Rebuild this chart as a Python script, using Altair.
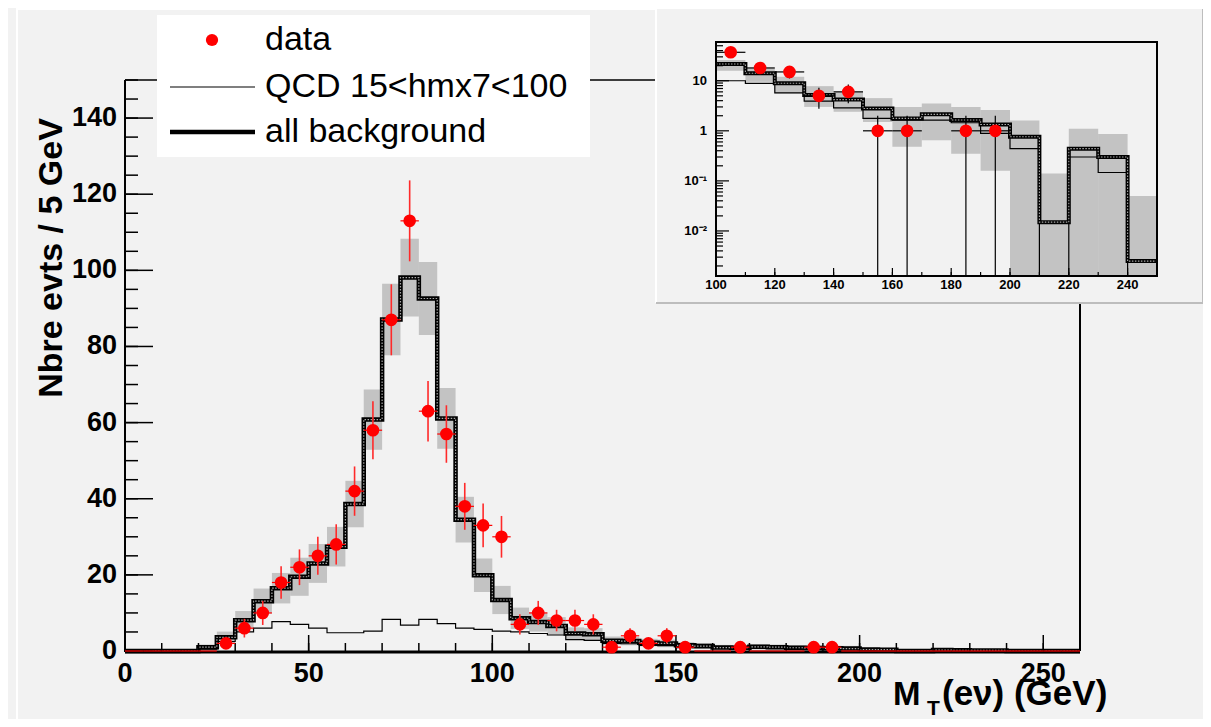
import altair as alt
import pandas as pd
import numpy as np

FONT = "Liberation Sans"
W, H = 955, 571
BG = "#f2f2f2"

# ---------------- main histogram (5 GeV bins, 0..260) ----------------
bin_low = list(range(0, 260, 5))
data_counts = [0, 0, 0, 0, 0, 2, 6, 10, 18, 22, 25, 28, 42, 58, 87, 113, 63, 57, 38, 33,
               30, 7, 10, 8, 8, 7, 1, 4, 2, 4, 1, 0, 0, 1, 0, 0, 0, 1, 1, 0,
               0, 0, 0, 0, 0, 0, 0, 0, 0, 0, 0, 0]
allbkg = [0, 0, 0, 0, 1.0, 3.6, 8.1, 13.1, 16.5, 19.5, 23.0, 27.4, 38.6, 60.8, 87.1, 98.1,
          92.6, 61.1, 34.5, 19.9, 13.4, 8.6, 7.6, 6.6, 4.6, 4.4, 2.7, 2.6, 2.2, 2.0, 1.5, 1.3,
          0.9, 0.85, 1.1, 1.0, 0.85, 0.8, 0.7, 0.65, 0.4, 0.35, 0.008, 0.007, 0.24, 0.2,
          0.16, 0.14, 0.0013, 0.0012, 0, 0]
qcd = [0, 0, 0, 0, 0.5, 2.5, 5.0, 6.0, 7.7, 7.0, 6.0, 4.8, 4.8, 5.2, 8.3, 6.8, 8.3, 7.2,
       6.0, 5.7, 5.2, 5.0, 4.6, 4.2, 3.0, 2.8, 2.0, 1.9, 1.5, 1.4, 0.9, 0.85, 0.85, 0.8,
       0.85, 0.8, 0.75, 0.7, 0.45, 0.45, 0.22, 0.22, 0, 0, 0.15, 0.15, 0.07, 0.07, 0, 0, 0, 0]
band_err = [0, 0, 0, 0, 0.7, 1.5, 2.4, 3.3, 4.0, 5.0, 5.1, 5.2, 6.1, 7.9, 9.4, 10.2, 9.6,
            8.0, 6.0, 4.4, 3.7, 2.8, 2.5, 2.3, 1.6, 1.6, 1.1, 1.1, 1.0, 1.0, 0.8, 0.8,
            0.7, 0.7, 0.7, 0.7, 0.7, 0.7, 0.7, 0.7, 0.5, 0.5, 0.1, 0.1, 0.4, 0.4, 0.4, 0.4,
            0.05, 0.05, 0, 0]

# ---------------- inset histogram (10 GeV bins, 100..250, log y) ----------------
in_low = list(range(100, 250, 10))
in_data = [37, 18, 15, 5, 6, 1, 1, 0, 1, 1, 0, 0, 0, 0, 0]
in_allbkg = [21.6, 14.1, 8.9, 5.2, 4.2, 2.8, 1.77, 2.13, 1.64, 1.34, 0.76, 0.015, 0.44, 0.30, 0.0025]
in_qcd = [10, 8.9, 5.75, 3.93, 2.88, 1.77, 1.64, 1.64, 1.45, 0.89, 0.44, 0, 0.30, 0.147, 0]
in_band_lo = [15.8, 9.5, 5.6, 3.0, 2.4, 1.5, 0.48, 0.65, 0.35, 0.16, 0, 0, 0, 0, 0]
in_band_hi = [26, 17.7, 12.0, 7.8, 6.0, 4.5, 3.0, 3.5, 3.0, 2.6, 1.6, 0.14, 1.1, 0.86, 0.05]

# ---------------- ticks / labels ----------------
x_major = [0, 50, 100, 150, 200, 250]
x_minor = list(range(0, 261, 10))
y_major = [0, 20, 40, 60, 80, 100, 120, 140]
y_minor = list(range(0, 151, 5))
in_x_major = [100, 120, 140, 160, 180, 200, 220, 240]
in_x_minor = list(range(100, 251, 10))
in_y_major = [0.01, 0.1, 1, 10]
in_y_labels = ["10\u207b\u00b2", "10\u207b\u00b9", "1", "10"]
IY_MIN, IY_MAX = 0.00126, 59.4
in_y_minor = [k * 10.0 ** e for e in (-3, -2, -1, 0, 1) for k in range(2, 10)
              if IY_MIN < k * 10.0 ** e < IY_MAX]
legend_labels = ["data", "QCD 15<hmx7<100", "all background"]

# ---------------- scales ----------------
xs = alt.Scale(domain=[0, 260], nice=False, zero=False)
ys = alt.Scale(domain=[0, 150], nice=False, zero=False)
ixs = alt.Scale(domain=[100, 250], range=[591, 1032], nice=False, zero=False)
iys = alt.Scale(type="log", domain=[IY_MIN, IY_MAX], range=[196, -38], nice=False, clamp=True)

one = pd.DataFrame({"k": [0]})

def hrule(y, x1, x2, color="black", width=1.0):
    return alt.Chart(one).mark_rule(color=color, strokeWidth=width).encode(
        x=alt.value(x1), x2=alt.value(x2), y=alt.value(y))

def vrule(x, y1, y2, color="black", width=1.0):
    return alt.Chart(one).mark_rule(color=color, strokeWidth=width).encode(
        x=alt.value(x), y=alt.value(y1), y2=alt.value(y2))

def label(t, x, y, size, weight="bold", align="left", baseline="alphabetic", angle=0):
    return alt.Chart(one).mark_text(text=t, font=FONT, fontSize=size, fontWeight=weight,
                                    align=align, baseline=baseline, angle=angle,
                                    color="black").encode(x=alt.value(x), y=alt.value(y))

# ---------------- main data frames ----------------
hist = pd.DataFrame({
    "lo": bin_low,
    "hi": [b + 5 for b in bin_low],
    "c": [b + 2.5 for b in bin_low],
    "data": data_counts,
    "err": band_err,
    "blo": [max(v - e, 0) for v, e in zip(allbkg, band_err)],
    "bhi": [v + e for v, e in zip(allbkg, band_err)],
})
hist["dlo"] = hist["data"] - np.sqrt(hist["data"])
hist["dhi"] = hist["data"] + np.sqrt(hist["data"])
step = pd.DataFrame({"x": bin_low + [260], "bkg": allbkg + [allbkg[-1]], "qcd": qcd + [qcd[-1]]})

X = lambda f: alt.X(f, type="quantitative", scale=xs, axis=None)
Y = lambda f: alt.Y(f, type="quantitative", scale=ys, axis=None)

band = alt.Chart(hist).transform_filter("datum.err > 0").mark_rect(
    fill="#9c9c9c", opacity=0.55).encode(x=X("lo"), x2="hi", y=Y("blo"), y2="bhi")
qcd_line = alt.Chart(step).mark_line(interpolate="step-after", color="black",
                                     strokeWidth=1.2).encode(x=X("x"), y=Y("qcd"))
bkg_line = alt.Chart(step).mark_line(interpolate="step-after", color="black",
                                     strokeWidth=4.5).encode(x=X("x"), y=Y("bkg"))
bkg_dots = alt.Chart(step).mark_line(interpolate="step-after", color="#a8a8a8",
                                     strokeWidth=1.2, strokeDash=[1.5, 1.5]).encode(x=X("x"), y=Y("bkg"))

frame = [
    hrule(0, 0, W, width=1.5),
    vrule(W, 0, H, width=2),
    vrule(0, 0, H + 1, width=2),
    hrule(H + 1, 0, W, width=3),
]

d_h = alt.Chart(hist).mark_rule(color="#ff0000", strokeWidth=1.2).encode(
    x=X("lo"), x2="hi", y=Y("data"))
d_v = alt.Chart(hist).transform_filter("datum.data > 0").mark_rule(
    color="#ff2a2a", strokeWidth=1.6).encode(x=X("c"), y=Y("dlo"), y2="dhi")
d_pt = alt.Chart(hist).transform_filter("datum.data > 0").mark_circle(
    color="#ff0000", size=160, opacity=1).encode(x=X("c"), y=Y("data"))

ymaj = alt.Chart(pd.DataFrame({"v": y_major})).mark_rule(color="black", strokeWidth=1.5).encode(
    x=alt.value(0), x2=alt.value(28), y=Y("v"))
ymin_ = alt.Chart(pd.DataFrame({"v": y_minor})).mark_rule(color="black", strokeWidth=1.5).encode(
    x=alt.value(0), x2=alt.value(13), y=Y("v"))
xmaj = alt.Chart(pd.DataFrame({"v": x_major})).mark_rule(color="black", strokeWidth=1.5).encode(
    x=X("v"), y=alt.value(H), y2=alt.value(H - 16))
xmin_ = alt.Chart(pd.DataFrame({"v": x_minor})).mark_rule(color="black", strokeWidth=1.5).encode(
    x=X("v"), y=alt.value(H), y2=alt.value(H - 8))

xlab = alt.Chart(pd.DataFrame({"v": x_major, "t": [str(v) for v in x_major]})).mark_text(
    font=FONT, fontSize=27, fontWeight="bold", align="center", baseline="top", color="black"
).encode(x=X("v"), y=alt.value(H + 10), text="t:N")
ylab = alt.Chart(pd.DataFrame({"v": y_major, "t": [str(v) for v in y_major]})).mark_text(
    font=FONT, fontSize=27, fontWeight="bold", align="right", baseline="middle", color="black"
).encode(x=alt.value(-8), y=Y("v"), text="t:N")

titles = [
    label("Nbre evts / 5 GeV", -63, 178, 34, align="center", angle=270),
    label("M", 768, 625, 33),
    label("T", 802, 635, 21),
    label("(e\u03bd) (GeV)", 817, 625, 35),
]

canvas = [
    vrule(-108, -72, 641, color="#ffffff", width=2),
    hrule(-71, -108, 1080, color="#ffffff", width=2),
    hrule(641, -108, 1080, color="#c4c4c4", width=2),
]

legend = [
    alt.Chart(one).mark_rect(fill="#ffffff").encode(
        x=alt.value(32), x2=alt.value(465), y=alt.value(-65), y2=alt.value(77)),
    alt.Chart(one).mark_circle(color="#ff0000", size=150, opacity=1).encode(
        x=alt.value(87), y=alt.value(-40)),
    hrule(7, 45, 130, width=1.2),
    hrule(52, 45, 130, width=4.5),
    label(legend_labels[0], 140, -40, 34, weight="normal", baseline="middle"),
    label(legend_labels[1], 140, 7, 34, weight="normal", baseline="middle"),
    label(legend_labels[2], 140, 52, 34, weight="normal", baseline="middle"),
]

main_group = alt.layer(*canvas, band, qcd_line, bkg_line, bkg_dots, *frame,
                       ymaj, ymin_, xmaj, xmin_, d_h, d_v, d_pt, xlab, ylab,
                       *titles, *legend)

# ---------------- inset ----------------
ih = pd.DataFrame({
    "lo": in_low,
    "hi": [b + 10 for b in in_low],
    "c": [b + 5 for b in in_low],
    "data": in_data,
    "blo": np.maximum(in_band_lo, IY_MIN),
    "bhi": np.maximum(in_band_hi, IY_MIN),
})
ih["dlo"] = np.maximum(ih["data"] - np.sqrt(ih["data"]), IY_MIN)
ih["dhi"] = ih["data"] + np.sqrt(ih["data"])
istep = pd.DataFrame({
    "x": in_low + [250],
    "bkg": np.maximum(in_allbkg + [in_allbkg[-1]], IY_MIN),
    "qcd": np.maximum(in_qcd + [in_qcd[-1]], IY_MIN),
})

IX = lambda f: alt.X(f, type="quantitative", scale=ixs, axis=None)
IY = lambda f: alt.Y(f, type="quantitative", scale=iys, axis=None)

pad = [
    alt.Chart(one).mark_rect(fill=BG).encode(
        x=alt.value(531), x2=alt.value(1078), y=alt.value(-71), y2=alt.value(223)),
    vrule(531, -71, 223, color="#ffffff", width=2),
    hrule(223, 531, 1078, color="#bdbdbd", width=2),
    vrule(1078, -71, 223, color="#bdbdbd", width=2),
]
i_band = alt.Chart(ih).mark_rect(fill="#9c9c9c", opacity=0.55).encode(
    x=IX("lo"), x2="hi", y=IY("blo"), y2="bhi")
i_qcd = alt.Chart(istep).mark_line(interpolate="step-after", color="black",
                                   strokeWidth=1.2).encode(x=IX("x"), y=IY("qcd"))
i_bkg = alt.Chart(istep).mark_line(interpolate="step-after", color="black",
                                   strokeWidth=4).encode(x=IX("x"), y=IY("bkg"))
i_dots = alt.Chart(istep).mark_line(interpolate="step-after", color="#a8a8a8", strokeWidth=1.1,
                                    strokeDash=[1.5, 1.5]).encode(x=IX("x"), y=IY("bkg"))
i_dh = alt.Chart(ih).transform_filter("datum.data > 0").mark_rule(
    color="black", strokeWidth=1.2).encode(x=IX("lo"), x2="hi", y=IY("data"))
i_dv = alt.Chart(ih).transform_filter("datum.data > 0").mark_rule(
    color="black", strokeWidth=1.2).encode(x=IX("c"), y=IY("dlo"), y2="dhi")
i_pt = alt.Chart(ih).transform_filter("datum.data > 0").mark_circle(
    color="#ff0000", size=160, opacity=1).encode(x=IX("c"), y=IY("data"))
i_frame = alt.Chart(one).mark_rect(fillOpacity=0, stroke="black", strokeWidth=2).encode(
    x=alt.value(591), x2=alt.value(1032), y=alt.value(-38), y2=alt.value(196))
i_ymaj = alt.Chart(pd.DataFrame({"v": in_y_major})).mark_rule(color="black", strokeWidth=1.2).encode(
    x=alt.value(591), x2=alt.value(604), y=IY("v"))
i_ymin = alt.Chart(pd.DataFrame({"v": in_y_minor})).mark_rule(color="black", strokeWidth=1.2).encode(
    x=alt.value(591), x2=alt.value(598), y=IY("v"))
i_xmaj = alt.Chart(pd.DataFrame({"v": in_x_major})).mark_rule(color="black", strokeWidth=1.2).encode(
    x=IX("v"), y=alt.value(196), y2=alt.value(188))
i_xmin = alt.Chart(pd.DataFrame({"v": in_x_minor})).mark_rule(color="black", strokeWidth=1.2).encode(
    x=IX("v"), y=alt.value(196), y2=alt.value(192))
i_xlab = alt.Chart(pd.DataFrame({"v": in_x_major, "t": [str(v) for v in in_x_major]})).mark_text(
    font=FONT, fontSize=13, fontWeight="bold", align="center", baseline="top", color="black"
).encode(x=IX("v"), y=alt.value(199), text="t:N")
i_ylab = alt.Chart(pd.DataFrame({"v": in_y_major, "t": in_y_labels})).mark_text(
    font=FONT, fontSize=13, fontWeight="bold", align="right", baseline="middle", color="black"
).encode(x=alt.value(582), y=IY("v"), text="t:N")

inset_group = alt.layer(*pad, i_band, i_qcd, i_bkg, i_dots, i_dh, i_dv, i_pt, i_frame,
                        i_ymaj, i_ymin, i_xmaj, i_xmin, i_xlab, i_ylab)

chart = alt.layer(main_group, inset_group).resolve_scale(
    x="independent", y="independent"
).properties(
    width=W, height=H, background=BG,
    autosize=alt.AutoSizeParams(type="none"),
    padding={"left": 117, "top": 72, "right": 123, "bottom": 68},
).configure_view(strokeWidth=0)

chart.save("out.html", embed_options={"renderer": "svg", "actions": False})
